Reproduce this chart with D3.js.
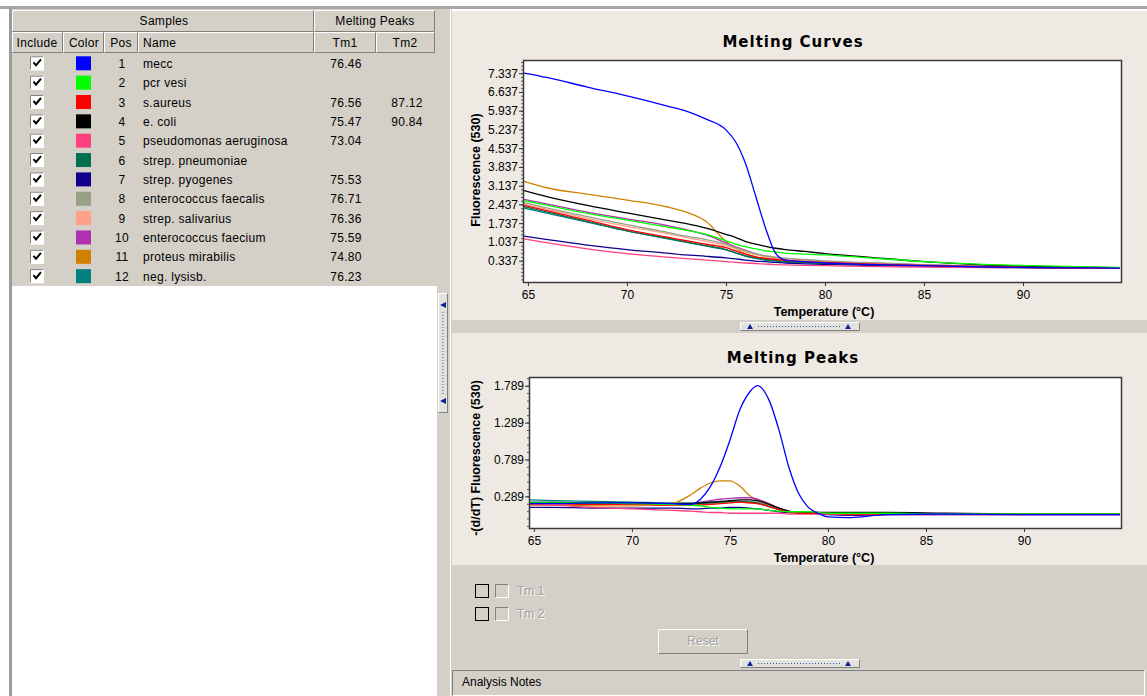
<!DOCTYPE html>
<html>
<head>
<meta charset="utf-8">
<script src="https://cdn.jsdelivr.net/npm/d3@7"></script>
<style>
body { margin: 0; background: #fff; }
svg { display: block; font-family: "Liberation Sans", Arial, sans-serif; }
</style>
</head>
<body>
<svg id="app" width="1147" height="696"></svg>
<script>
// samples table
var samplePos = [1,2,3,4,5,6,7,8,9,10,11,12]
var sampleNames = ["mecc","pcr vesi","s.aureus","e. coli","pseudomonas aeruginosa","strep. pneumoniae","strep. pyogenes","enterococcus faecalis","strep. salivarius","enterococcus faecium","proteus mirabilis","neg. lysisb."]
var sampleColors = ["#0000ff","#00ff00","#ff0000","#000000","#ff4080","#007050","#10008c","#98a088","#ffa088","#b030b0","#d08000","#008080"]
var tm1Values = ["76.46","","76.56","75.47","73.04","","75.53","76.71","76.36","75.59","74.80","76.23"]
var tm2Values = ["","","87.12","90.84","","","","","","","",""]

// melting curves, one row per sample
var curveTemps = [64.8,66,68,70,72,73,74,75,75.5,76,76.5,77,77.5,78,79,80,82,85,88,91,94.9]
var curveValues = [
	[7.34,7.17,6.82,6.49,6.12,5.92,5.62,5.22,4.76,3.94,2.75,1.55,0.62,0.36,0.3,0.25,0.2,0.15,0.1,0.08,0.06],
	[2.58,2.4,2.1,1.85,1.6,1.47,1.32,1.08,0.95,0.85,0.78,0.7,0.66,0.62,0.58,0.55,0.45,0.3,0.2,0.14,0.08],
	[2.4,2.2,1.85,1.5,1.22,1.08,0.95,0.82,0.7,0.58,0.48,0.42,0.38,0.35,0.3,0.27,0.22,0.16,0.11,0.08,0.06],
	[2.95,2.72,2.4,2.12,1.85,1.72,1.55,1.32,1.2,1.05,0.95,0.87,0.8,0.75,0.68,0.6,0.48,0.3,0.18,0.12,0.07],
	[1.15,1.0,0.78,0.6,0.47,0.41,0.36,0.3,0.27,0.25,0.23,0.21,0.19,0.18,0.16,0.15,0.12,0.1,0.08,0.07,0.06],
	[2.35,2.15,1.8,1.45,1.18,1.04,0.9,0.75,0.63,0.52,0.44,0.38,0.34,0.31,0.27,0.24,0.2,0.15,0.1,0.08,0.06],
	[1.25,1.12,0.92,0.75,0.62,0.55,0.5,0.44,0.4,0.36,0.32,0.3,0.27,0.25,0.22,0.2,0.16,0.12,0.09,0.07,0.05],
	[2.5,2.3,1.98,1.68,1.4,1.25,1.12,0.95,0.82,0.7,0.6,0.52,0.47,0.43,0.38,0.33,0.27,0.19,0.13,0.09,0.07],
	[2.45,2.25,1.92,1.62,1.35,1.2,1.06,0.9,0.78,0.66,0.56,0.48,0.43,0.39,0.34,0.3,0.24,0.17,0.12,0.08,0.06],
	[2.62,2.45,2.15,1.9,1.65,1.5,1.3,1.0,0.85,0.72,0.6,0.5,0.45,0.4,0.35,0.3,0.25,0.18,0.12,0.09,0.06],
	[3.3,3.05,2.82,2.6,2.35,2.15,1.8,1.05,0.78,0.58,0.48,0.42,0.38,0.35,0.31,0.28,0.22,0.16,0.12,0.09,0.06],
	[2.3,2.1,1.78,1.45,1.16,1.02,0.88,0.74,0.62,0.5,0.42,0.36,0.32,0.29,0.26,0.23,0.19,0.14,0.1,0.08,0.06]
]

// melting peaks, one row per sample
var peakTemps = [64.8,66,68,70,72,73,73.5,74,74.5,75,75.5,76,76.4,77,77.5,78,78.5,79,79.5,80,81,83,86,90,94.9]
var peakValues = [
	[0.19,0.19,0.2,0.2,0.19,0.18,0.25,0.42,0.69,1.05,1.46,1.7,1.789,1.59,1.19,0.69,0.33,0.14,0.06,0.01,0.0,0.04,0.05,0.04,0.04],
	[0.2,0.2,0.2,0.19,0.18,0.17,0.16,0.14,0.13,0.12,0.12,0.12,0.12,0.1,0.09,0.08,0.08,0.08,0.07,0.06,0.06,0.06,0.05,0.05,0.05],
	[0.19,0.19,0.18,0.18,0.17,0.17,0.17,0.18,0.19,0.2,0.21,0.2,0.19,0.15,0.11,0.08,0.07,0.06,0.06,0.06,0.05,0.05,0.05,0.05,0.05],
	[0.2,0.2,0.2,0.2,0.19,0.19,0.2,0.21,0.22,0.23,0.24,0.24,0.23,0.18,0.13,0.09,0.07,0.07,0.07,0.07,0.07,0.07,0.06,0.05,0.05],
	[0.18,0.17,0.14,0.12,0.1,0.09,0.08,0.07,0.07,0.06,0.06,0.06,0.06,0.06,0.06,0.05,0.05,0.05,0.05,0.05,0.04,0.04,0.04,0.04,0.04],
	[0.21,0.21,0.2,0.2,0.19,0.19,0.19,0.2,0.21,0.22,0.22,0.21,0.2,0.15,0.11,0.08,0.07,0.06,0.06,0.05,0.05,0.05,0.05,0.05,0.05],
	[0.14,0.14,0.13,0.13,0.13,0.12,0.12,0.13,0.13,0.14,0.14,0.13,0.12,0.1,0.08,0.07,0.06,0.06,0.05,0.04,0.03,0.04,0.04,0.04,0.04],
	[0.2,0.2,0.19,0.19,0.18,0.18,0.18,0.19,0.2,0.21,0.22,0.22,0.21,0.16,0.12,0.09,0.07,0.06,0.06,0.06,0.06,0.05,0.05,0.05,0.05],
	[0.18,0.18,0.18,0.17,0.17,0.17,0.18,0.19,0.2,0.21,0.21,0.2,0.19,0.15,0.11,0.08,0.07,0.06,0.06,0.06,0.05,0.05,0.05,0.05,0.05],
	[0.2,0.2,0.2,0.19,0.19,0.19,0.21,0.23,0.25,0.26,0.27,0.27,0.25,0.19,0.13,0.09,0.07,0.06,0.06,0.06,0.06,0.05,0.05,0.05,0.05],
	[0.17,0.17,0.16,0.16,0.19,0.31,0.4,0.47,0.5,0.5,0.43,0.3,0.24,0.17,0.13,0.09,0.07,0.06,0.06,0.06,0.06,0.05,0.05,0.05,0.05],
	[0.24,0.23,0.22,0.21,0.2,0.2,0.2,0.21,0.21,0.22,0.22,0.21,0.2,0.15,0.11,0.08,0.07,0.07,0.07,0.06,0.06,0.06,0.05,0.05,0.05]
]

var tempTicks = [65,70,75,80,85,90]
var curveTicks = [0.337,1.037,1.737,2.437,3.137,3.837,4.537,5.237,5.937,6.637,7.337]
var peakTicks = [0.289,0.789,1.289,1.789]

var gray = '#d4d0c8', beige = '#eeeae3', dark = '#808080'
var svg = d3.select('#app')

// raised / sunken 3d box like old windows controls
function box(g, x, y, w, h, fill, sunken) {
	var tl = sunken ? dark : '#ffffff', br = sunken ? '#ffffff' : dark
	g.append('rect').attr('x',x).attr('y',y).attr('width',w).attr('height',h).attr('fill',fill)
	g.append('path').attr('d','M'+(x+.5)+','+(y+h-.5)+'V'+(y+.5)+'H'+(x+w-.5)).attr('stroke',tl).attr('fill','none')
	g.append('path').attr('d','M'+(x+.5)+','+(y+h-.5)+'H'+(x+w-.5)+'V'+(y+.5)).attr('stroke',br).attr('fill','none')
}

function label(g, x, y, txt, anchor, opts) {
	opts = opts || {}
	return g.append('text').attr('x',x).attr('y',y).text(txt)
		.attr('text-anchor',anchor || 'start')
		.attr('font-size',(opts.size || 12)+'px')
		.attr('font-weight',opts.weight || 400)
		.attr('fill',opts.fill || '#000')
		.style('letter-spacing',opts.ls || '0.3px')
}

// ---------- left panel: samples table ----------
var left = svg.append('g')
left.append('rect').attr('x',0).attr('y',6).attr('width',1147).attr('height',3).attr('fill','#a8a8a8')
left.append('rect').attr('x',9).attr('y',7).attr('width',3).attr('height',689).attr('fill','#9c9c9c')
left.append('rect').attr('x',12).attr('y',9).attr('width',425).attr('height',277).attr('fill',gray)
left.append('rect').attr('x',12).attr('y',286).attr('width',425).attr('height',410).attr('fill','#ffffff')

var hdr1 = [[12,302,'Samples',164],[314,121,'Melting Peaks',375]]
hdr1.forEach(function(h){
	box(left, h[0], 10, h[1], 22, gray)
	label(left, h[3], 25, h[2], 'middle')
})
var hdr2 = [[12,51,'Include',37,'middle'],[63,41,'Color',84,'middle'],[104,34,'Pos',121,'middle'],
	[138,176,'Name',143,'start'],[314,62,'Tm1',345,'middle'],[376,59,'Tm2',405,'middle']]
hdr2.forEach(function(h){
	box(left, h[0], 32, h[1], 21, gray)
	label(left, h[3], 47, h[2], h[4])
})

var rowH = 19.35
var rows = left.selectAll('g.row').data(samplePos).enter().append('g')
	.attr('class','row')
	.attr('transform',function(d,i){ return 'translate(0,' + (63.3 + i*rowH) + ')' })
rows.each(function(d,i){
	var r = d3.select(this)
	box(r, 30, -7, 14, 14, '#ffffff', true)
	r.append('path').attr('d','M33.5,-1 L36,2 L41,-4').attr('stroke','#000').attr('stroke-width',2).attr('fill','none')
	r.append('rect').attr('x',76).attr('y',-7).attr('width',15).attr('height',14).attr('fill',sampleColors[i])
	label(r, 122, 4.5, samplePos[i], 'middle')
	label(r, 143, 4.5, sampleNames[i], 'start')
	label(r, 346, 4.5, tm1Values[i], 'middle')
	label(r, 407, 4.5, tm2Values[i], 'middle')
})

// ---------- vertical splitter ----------
var split = svg.append('g')
split.append('rect').attr('x',437).attr('y',9).attr('width',15).attr('height',687).attr('fill',gray)
split.append('line').attr('x1',450.5).attr('x2',450.5).attr('y1',9).attr('y2',696).attr('stroke','#ffffff')
box(split, 438, 293, 10, 120, '#e4e2dc')
split.append('path').attr('d','M440,305 L446,302 L446,308 Z').attr('fill','#1020a0')
split.append('path').attr('d','M440,401 L446,398 L446,404 Z').attr('fill','#1020a0')
split.append('line').attr('x1',443).attr('x2',443).attr('y1',312).attr('y2',395)
	.attr('stroke','#4050b0').attr('stroke-dasharray','1,2')

// ---------- right panel backgrounds ----------
var right = svg.append('g')
right.append('rect').attr('x',452).attr('y',11).attr('width',695).attr('height',309).attr('fill',beige)
right.append('rect').attr('x',452).attr('y',320).attr('width',695).attr('height',13).attr('fill',gray)
right.append('rect').attr('x',452).attr('y',333).attr('width',695).attr('height',232).attr('fill',beige)
right.append('rect').attr('x',452).attr('y',565).attr('width',695).attr('height',131).attr('fill',gray)

function hsplitter(g, y) {
	box(g, 740, y, 120, 9, '#e4e2dc')
	g.append('path').attr('d','M'+747+','+(y+7)+' L'+750+','+(y+2)+' L'+753+','+(y+7)+' Z').attr('fill','#1020a0')
	g.append('path').attr('d','M'+845+','+(y+7)+' L'+848+','+(y+2)+' L'+851+','+(y+7)+' Z').attr('fill','#1020a0')
	g.append('line').attr('x1',758).attr('x2',842).attr('y1',y+4.5).attr('y2',y+4.5)
		.attr('stroke','#4050b0').attr('stroke-dasharray','1,2')
}
hsplitter(right, 322)
hsplitter(right, 659)

// ---------- charts ----------
function drawChart(cfg) {
	var g = svg.append('g')
	var x = d3.scaleLinear().domain([64.75, 94.95]).range([cfg.left, cfg.right])
	var y = d3.scaleLinear().domain(cfg.yDomain).range([cfg.bottom, cfg.top])

	g.append('text').attr('x',793).attr('y',cfg.titleY).text(cfg.title)
		.attr('text-anchor','middle').attr('font-family','"DejaVu Sans", sans-serif')
		.attr('font-weight',700).attr('font-size','15px').style('letter-spacing','1px')

	g.append('rect').attr('x',cfg.left).attr('y',cfg.top)
		.attr('width',cfg.right-cfg.left).attr('height',cfg.bottom-cfg.top).attr('fill','#ffffff')

	var clipId = 'clip-' + cfg.id
	svg.append('clipPath').attr('id',clipId).append('rect')
		.attr('x',cfg.left).attr('y',cfg.top).attr('width',cfg.right-cfg.left).attr('height',cfg.bottom-cfg.top)

	var line = d3.line()
		.x(function(d){ return x(d[0]) })
		.y(function(d){ return y(d[1]) })
		.curve(d3.curveMonotoneX)

	var lines = g.append('g').attr('clip-path','url(#' + clipId + ')')
	var order = d3.range(cfg.values.length).reverse()
	order.forEach(function(i){
		var pts = cfg.temps.map(function(t,k){ return [t, cfg.values[i][k]] })
		lines.append('path').datum(pts).attr('d',line)
			.attr('fill','none').attr('stroke',sampleColors[i]).attr('stroke-width',1.3)
	})

	g.append('rect').attr('x',cfg.left+.5).attr('y',cfg.top+.5)
		.attr('width',cfg.right-cfg.left).attr('height',cfg.bottom-cfg.top)
		.attr('fill','none').attr('stroke','#3a3a3a').attr('stroke-width',1.5)

	// minor y ticks
	var step = cfg.yTicks[1] - cfg.yTicks[0], minor = []
	d3.range(cfg.yTicks[0] - step, cfg.yTicks[cfg.yTicks.length-1] + step, step/5).forEach(function(v){
		if (v > cfg.yDomain[0] && v < cfg.yDomain[1]) minor.push(v)
	})
	g.append('g').attr('transform','translate(' + cfg.left + ',0)')
		.call(d3.axisLeft(y).tickValues(minor).tickSize(2).tickFormat(''))
		.call(function(a){ a.select('.domain').remove(); a.selectAll('line').attr('stroke','#555') })

	g.append('g').attr('transform','translate(' + cfg.left + ',0)')
		.call(d3.axisLeft(y).tickValues(cfg.yTicks).tickSize(4).tickPadding(1).tickFormat(d3.format('.3f')))
		.call(function(a){
			a.select('.domain').remove()
			a.selectAll('line').attr('stroke','#333')
			a.selectAll('text').attr('font-size','12px').attr('font-family','"Liberation Sans", Arial, sans-serif').attr('fill','#000')
		})

	g.append('g').attr('transform','translate(0,' + cfg.bottom + ')')
		.call(d3.axisBottom(x).tickValues(tempTicks).tickSize(4).tickPadding(4))
		.call(function(a){
			a.select('.domain').remove()
			a.selectAll('line').attr('stroke','#333')
			a.selectAll('text').attr('font-size','12px').attr('font-family','"Liberation Sans", Arial, sans-serif').attr('fill','#000')
		})

	g.append('text').attr('x',824).attr('y',cfg.bottom + 34).text('Temperature (°C)')
		.attr('text-anchor','middle').attr('font-weight',700).attr('font-size','12.5px')
	g.append('text').attr('transform','translate(480,' + cfg.yLabelY + ') rotate(-90)')
		.text(cfg.yLabel).attr('text-anchor','middle').attr('font-weight',700).attr('font-size','12.5px')
}

drawChart({id:'curves', title:'Melting Curves', titleY:47, left:523, right:1121, top:60, bottom:282,
	yDomain:[-0.46, 7.83], yTicks:curveTicks, temps:curveTemps, values:curveValues,
	yLabel:'Fluorescence (530)', yLabelY:170})
drawChart({id:'peaks', title:'Melting Peaks', titleY:363, left:529, right:1121, top:377, bottom:528,
	yDomain:[-0.14, 1.907], yTicks:peakTicks, temps:peakTemps, values:peakValues,
	yLabel:'-(d/dT) Fluorescence (530)', yLabelY:458})

// ---------- bottom controls ----------
var ctl = svg.append('g')
;['Tm 1','Tm 2'].forEach(function(t,i){
	var yy = 584 + i*23
	ctl.append('rect').attr('x',475.5).attr('y',yy+.5).attr('width',13).attr('height',13)
		.attr('fill','none').attr('stroke','#000')
	box(ctl, 495, yy, 14, 14, gray, true)
	label(ctl, 518, yy+12, t, 'start', {fill:'#ffffff', ls:'0px'})
	label(ctl, 517, yy+11, t, 'start', {fill:'#a0a0a0', ls:'0px'})
})
box(ctl, 658, 629, 90, 25, gray)
label(ctl, 704, 646, 'Reset', 'middle', {fill:'#ffffff', ls:'0px'})
label(ctl, 703, 645, 'Reset', 'middle', {fill:'#a0a0a0', ls:'0px'})

box(ctl, 452, 670, 693, 26, gray, true)
label(ctl, 462, 686, 'Analysis Notes', 'start', {ls:'0px'})
</script>
</body>
</html>
